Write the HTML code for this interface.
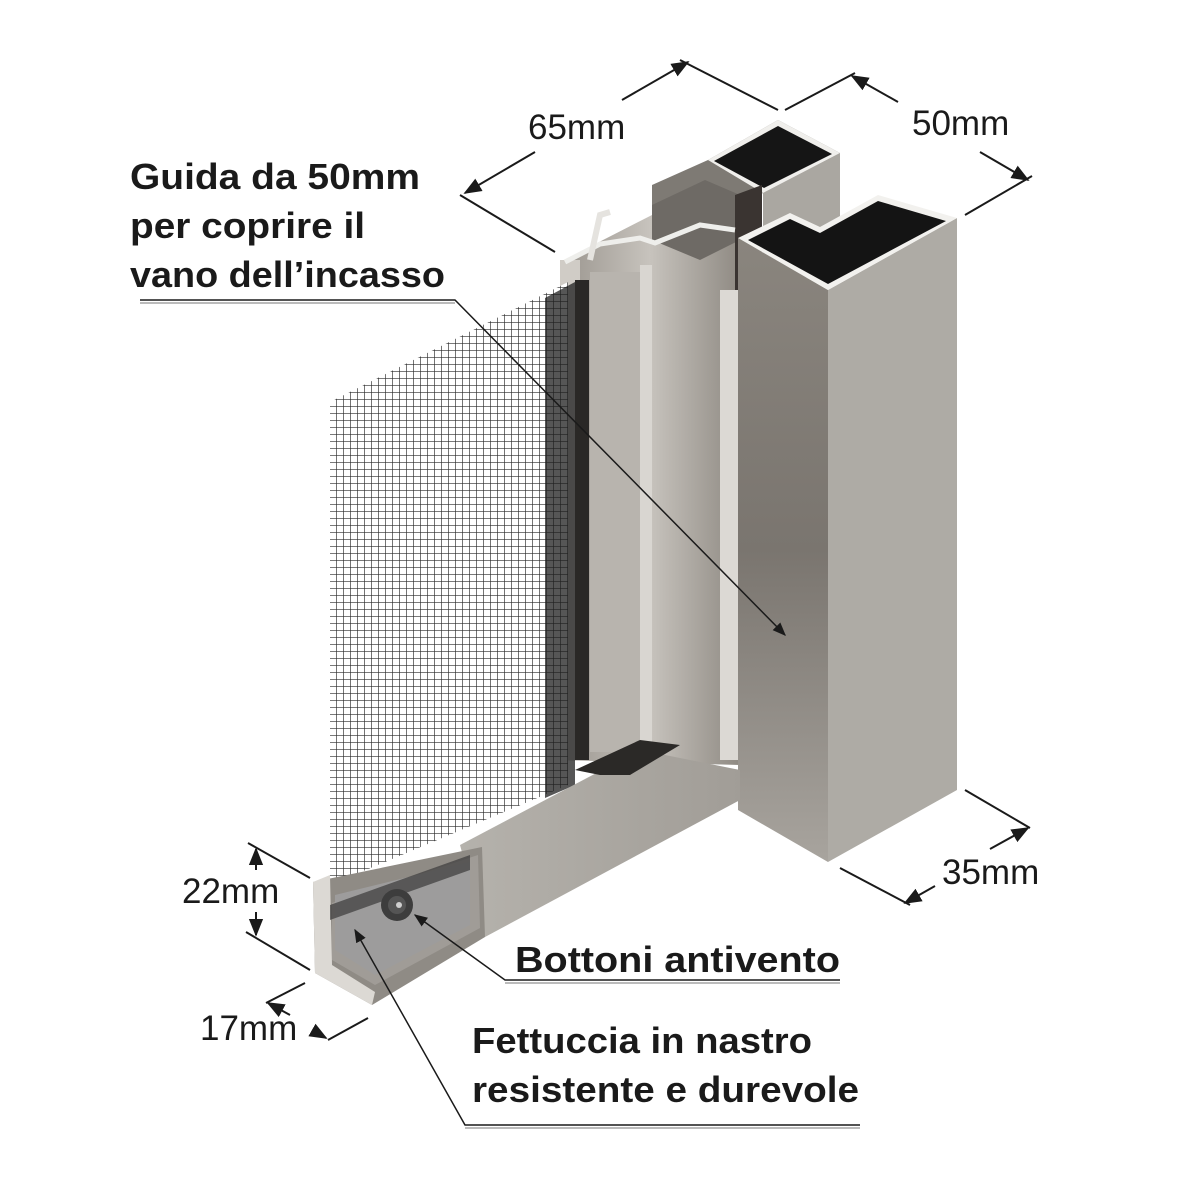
<!DOCTYPE html>
<html><head><meta charset="utf-8"><style>html,body{margin:0;padding:0;background:#fff}svg{display:block}</style></head>
<body>
<svg width="1181" height="1181" viewBox="0 0 1181 1181" xmlns="http://www.w3.org/2000/svg">
<defs>
<pattern id="mesh" width="7" height="7" patternUnits="userSpaceOnUse">
<rect width="7" height="7" fill="#fff"/>
<path d="M0 0H7M0 0V7" stroke="#2a2a2a" stroke-width="1.3"/>
</pattern>
<linearGradient id="gFace" x1="0" x2="1"><stop offset="0" stop-color="#9a958e"/><stop offset="0.5" stop-color="#c7c3bd"/><stop offset="1" stop-color="#8f8a83"/></linearGradient>
<linearGradient id="gLeft" x1="0" y1="0" x2="0" y2="1"><stop offset="0" stop-color="#8a857e"/><stop offset="0.5" stop-color="#7a756f"/><stop offset="1" stop-color="#a8a49e"/></linearGradient>
<linearGradient id="gBot" x1="0" x2="1"><stop offset="0" stop-color="#b5b2ac"/><stop offset="1" stop-color="#a19d97"/></linearGradient>
<marker id="ar" viewBox="0 0 10 10" refX="9" refY="5" markerWidth="9" markerHeight="9" orient="auto-start-reverse"><path d="M0 1L10 5L0 9z" fill="#1a1a1a"/></marker>
</defs>

<polygon points="652,185 708,160 778,120 840,153 840,230 763,193 700,225 652,250" fill="#7e7a74"/>
<polygon points="763,193 840,153 840,260 763,300" fill="#aaa7a1"/>
<polygon points="708,160 778,120 840,153 763,193" fill="#f0efec"/>
<polygon points="714,161 778,126 832,154 764,188" fill="#151515"/>

<polygon points="560,262 652,215 740,235 740,765 560,760" fill="url(#gFace)"/>
<polygon points="652,205 705,180 740,195 740,240 700,260 652,240" fill="#6e6a65"/>
<polygon points="735,195 762,185 762,760 735,760" fill="#3a3431"/>
<rect x="560" y="260" width="20" height="500" fill="#d0ccc6"/>
<rect x="575" y="280" width="14" height="480" fill="#2a2826"/>
<rect x="590" y="272" width="58" height="480" fill="#b8b4ae"/>
<rect x="640" y="265" width="12" height="480" fill="#d9d6d1"/>
<rect x="720" y="290" width="18" height="470" fill="#dcd9d4"/>
<polyline points="565,262 600,244 640,238 655,243 700,225 735,230" fill="none" stroke="#eeeeeb" stroke-width="5"/>
<polyline points="590,260 600,215 610,212" fill="none" stroke="#e5e3df" stroke-width="6"/>

<polygon points="330,402 568,282 568,785 330,885" fill="url(#mesh)"/>
<polygon points="545,298 575,282 575,785 545,798" fill="#1e1e1e" opacity="0.75"/>

<polygon points="738,238 828,290 828,862 738,810" fill="url(#gLeft)"/>
<polygon points="828,290 957,218 957,790 828,862" fill="#aeaba5"/>
<polygon points="738,238 790,213 820,227 878,195 957,218 828,290" fill="#f2f1ee"/>
<polygon points="748,240 790,219 820,233 878,201 946,221 828,284" fill="#141414"/>

<polygon points="460,845 640,750 740,770 740,800 485,937" fill="url(#gBot)"/>
<polygon points="575,770 640,740 680,745 630,775 600,775" fill="#2b2927"/>
<polygon points="313,882 482,847 485,937 372,1005 315,973" fill="#8f8b85"/>
<polygon points="313,882 330,875 332,965 375,992 372,1005 315,973" fill="#dcd9d4"/>
<polygon points="332,903 478,855 480,928 375,985 332,960" fill="#a09c97"/>
<polygon points="335,895 470,862 470,925 375,975 335,950" fill="#9d9c9c"/>
<polygon points="330,905 470,855 470,870 330,920" fill="#3a3a3a" opacity="0.7"/>
<circle cx="397" cy="905" r="16" fill="#3d3d3d"/>
<circle cx="397" cy="905" r="9" fill="#555"/>
<circle cx="399" cy="905" r="3" fill="#cfcfcf"/>

<g stroke="#1a1a1a" stroke-width="2" fill="none">
<line x1="555" y1="252" x2="460" y2="195"/>
<line x1="778" y1="110" x2="680" y2="60"/>
<line x1="465" y1="193" x2="535" y2="152" marker-start="url(#ar)"/>
<line x1="622" y1="100" x2="688" y2="62" marker-end="url(#ar)"/>
<line x1="785" y1="110" x2="855" y2="73"/>
<line x1="965" y1="215" x2="1032" y2="176"/>
<line x1="852" y1="76" x2="898" y2="102" marker-start="url(#ar)"/>
<line x1="980" y1="152" x2="1028" y2="180" marker-end="url(#ar)"/>
<line x1="840" y1="868" x2="910" y2="905"/>
<line x1="965" y1="790" x2="1030" y2="828"/>
<line x1="905" y1="903" x2="935" y2="886" marker-start="url(#ar)"/>
<line x1="990" y1="849" x2="1028" y2="828" marker-end="url(#ar)"/>
<line x1="248" y1="843" x2="310" y2="878"/>
<line x1="246" y1="932" x2="310" y2="970"/>
<line x1="256" y1="870" x2="256" y2="849" marker-end="url(#ar)"/>
<line x1="256" y1="912" x2="256" y2="935" marker-end="url(#ar)"/>
<line x1="305" y1="983" x2="266" y2="1003"/>
<line x1="328" y1="1040" x2="368" y2="1018"/>
<line x1="290" y1="1015" x2="268" y2="1003" marker-end="url(#ar)"/>
<line x1="312" y1="1030" x2="326" y2="1038" marker-end="url(#ar)"/>
</g>
<g stroke="#1a1a1a" stroke-width="1.5" fill="none">
<polyline points="140,300 455,300 785,635" marker-end="url(#ar)"/>
<polyline points="840,980 505,980 415,915" marker-end="url(#ar)"/>
<polyline points="860,1125 465,1125 355,930" marker-end="url(#ar)"/>
</g>
<g stroke="#bbb" stroke-width="2">
<line x1="140" y1="303" x2="455" y2="303"/>
<line x1="505" y1="983" x2="840" y2="983"/>
<line x1="465" y1="1128" x2="860" y2="1128"/>
</g>

<g font-family="Liberation Sans, sans-serif" fill="#1a1a1a">
<text x="528" y="139" font-size="35">65mm</text>
<text x="912" y="135" font-size="35">50mm</text>
<text x="942" y="884" font-size="35">35mm</text>
<text x="182" y="903" font-size="35">22mm</text>
<text x="200" y="1040" font-size="35">17mm</text>
<g font-weight="bold" font-size="36">
<text x="130" y="189" textLength="290" lengthAdjust="spacingAndGlyphs">Guida da 50mm</text>
<text x="130" y="238" textLength="235" lengthAdjust="spacingAndGlyphs">per coprire il</text>
<text x="130" y="287" textLength="315" lengthAdjust="spacingAndGlyphs">vano dell’incasso</text>
<text x="515" y="972" textLength="325" lengthAdjust="spacingAndGlyphs">Bottoni antivento</text>
<text x="472" y="1053" textLength="340" lengthAdjust="spacingAndGlyphs">Fettuccia in nastro</text>
<text x="472" y="1102" textLength="387" lengthAdjust="spacingAndGlyphs">resistente e durevole</text>
</g>
</g>
</svg>
</body></html>
